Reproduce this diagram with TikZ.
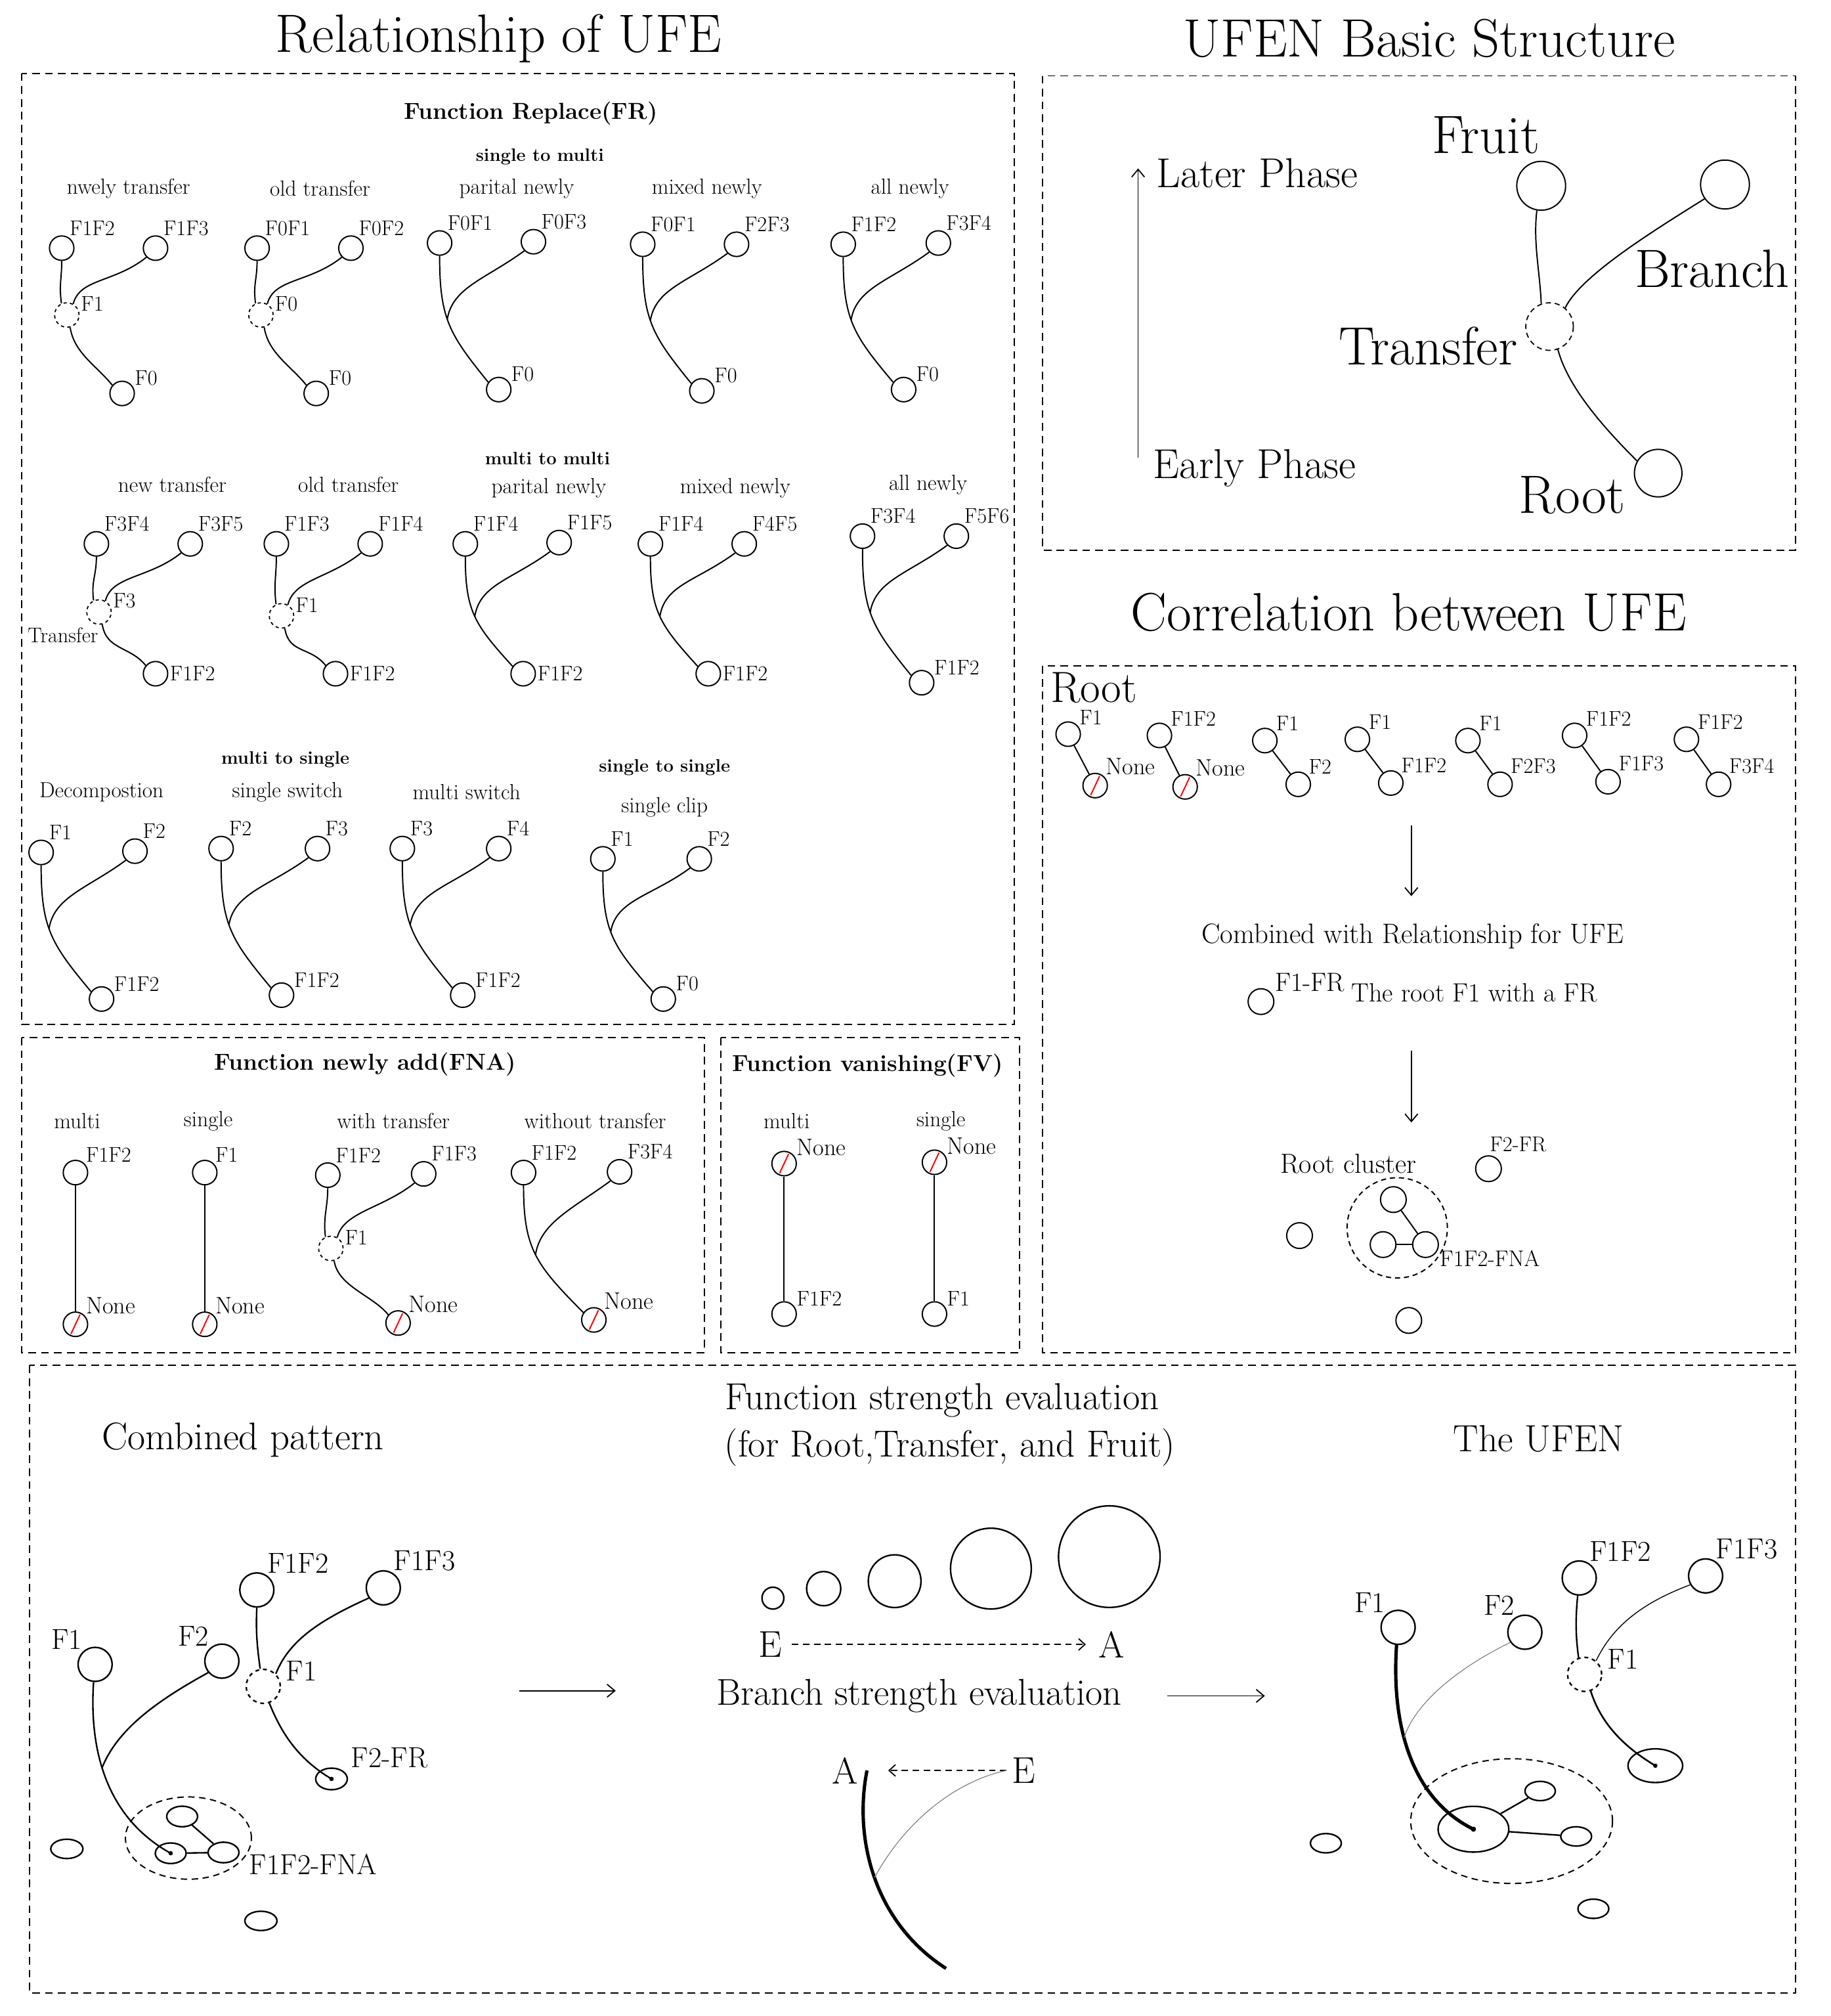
\documentclass[tikz,border=0pt]{standalone}
\usetikzlibrary{calc,arrows.meta,shapes.geometric}
\newcommand{\myfs}[1]{\fontsize{#1}{#1}\selectfont}
\tikzset{
  cir/.style={circle,draw,minimum size=19pt,inner sep=0pt,line width=1pt},
  trc/.style={circle,draw,dash pattern=on 2.5pt off 2.5pt,minimum size=19pt,inner sep=0pt,line width=0.9pt},
  nonec/.style={cir,path picture={\draw[red,line width=1pt] ($(path picture bounding box.center)+(-3.5pt,-7.5pt)$) -- ($(path picture bounding box.center)+(3.5pt,7.5pt)$);}},
  lb/.style={font=\myfs{16.5},inner sep=1pt},
  lbn/.style={font=\myfs{18.5},inner sep=1pt},
  sub/.style={font=\myfs{17},inner sep=0pt},
  hdr/.style={font=\bfseries\myfs{14},inner sep=0pt},
  hdrb/.style={font=\bfseries\myfs{18},inner sep=0pt},
  ttl/.style={font=\myfs{42},inner sep=0pt},
  box/.style={draw,dash pattern=on 6pt off 4pt,line width=1pt},
  ar/.style={-{Straight Barb[length=6pt,width=10pt]},line width=0.9pt},
  dar/.style={-{Straight Barb[length=5pt,width=9pt]},dash pattern=on 5pt off 3.5pt,line width=0.9pt},
  bsty/.style={cir},
  blab/.style={label={[lb]30:#1}},
  bc/.style={circle,draw,line width=1.2pt,inner sep=0pt,minimum size=26.5pt},
  btr/.style={bc,dash pattern=on 3pt off 3pt},
  bel/.style={ellipse,draw,line width=1.2pt,inner sep=0pt},
  bl/.style={font=\myfs{22.5},inner sep=1pt},
  mid/.style={font=\myfs{29},inner sep=0pt},
}
% with transfer diagram
\newcommand{\WT}[9]{%
  \node[cir,label={[lb]60:#6}] (#1L) at #2 {};
  \node[cir,label={[lb]60:#7}] (#1R) at #3 {};
  \node[trc,label={[lb]10:#8}] (#1T) at #4 {};
  \node[bsty,blab={#9}] (#1B) at #5 {};
  \draw[line width=1pt] (#1L.south) .. controls +(0,15) and +(-2,-15) .. (#1T.115);
  \draw[line width=1pt] (#1R.-135) .. controls +(-25,20) and +(5,-20) .. (#1T.60);
  \draw[line width=1pt] (#1T.-75) .. controls +(3,20) and +(-12,-15) .. (#1B.140);
}
% no transfer diagram
\newcommand{\NT}[8]{%
  \node[cir,label={[lb]60:#5}] (#1L) at #2 {};
  \node[cir,label={[lb]60:#6}] (#1R) at #3 {};
  \node[bsty,blab={#7}] (#1B) at #4 {};
  \draw[line width=1pt] let \p1=(#1L.south), \p2=(#1B.145) in
    (\p1) .. controls (\x1,{\y1+0.5*(\y2-(\y1))}) and ({\x1+0.2*(\x2-(\x1))},{\y1+0.62*(\y2-(\y1))}) .. (\p2) coordinate[pos=#8] (#1J);
  \draw[line width=1pt] (#1R.-135) .. controls +(-30,22) and +(4,-25) .. (#1J);
}
% correlation pair
\newcommand{\CP}[7]{%
  \node[cir,label={[lb]40:#4}] (#1a) at #2 {};
  \node[#6,label={[#7]45:#5}] (#1b) at #3 {};
  \draw[line width=1pt] (#1a) -- (#1b);
}
\begin{document}
\begin{tikzpicture}[x=1pt,y=-1pt]
\useasboundingbox (0,0) rectangle (1424,1568);
\fill[white] (0,0) rectangle (1424,1568);

% ---------- titles ----------
\node[ttl] (t1) at (388,30) {Relationship of UFE};
\node[ttl] (t2) at (1112,30) {UFEN Basic Structure};
\node[ttl] (t3) at (1096,476) {Correlation between UFE};

% ---------- boxes ----------
\draw[box] (17,57) rectangle (789,797);
\draw[box] (17,807) rectangle (548,1052);
\draw[box] (561,807) rectangle (793,1052);
\draw[box] (811,59) rectangle (1397,428);
\draw[box] (811,518) rectangle (1397,1052);
\draw[box] (23,1062) rectangle (1397,1550);

% ---------- Function Replace ----------
\node[hdrb] (frh) at (413,88) {Function Replace(FR)};
\node[hdr] (h1) at (420,122) {single to multi};
\node[sub] (s1a) at (100,146.5) {nwely transfer};
\node[sub] (s1b) at (249,146.5) {old transfer};
\node[sub] (s1c) at (402,146.5) {parital newly};
\node[sub] (s1d) at (550,146.5) {mixed newly};
\node[sub] (s1e) at (708,146.5) {all newly};

\WT{a}{(48,193)}{(121,193)}{(52,245)}{(95,306)}{F1F2}{F1F3}{F1}{F0}
\WT{b}{(200,193)}{(273,193)}{(203,245)}{(246,306)}{F0F1}{F0F2}{F0}{F0}
\NT{c}{(342,189)}{(415,188)}{(388,303)}{F0F1}{F0F3}{F0}{0.45}
\NT{d}{(500,190)}{(573,190)}{(546,304)}{F0F1}{F2F3}{F0}{0.45}
\NT{e}{(656,190)}{(730,189)}{(703,303)}{F1F2}{F3F4}{F0}{0.45}

\node[hdr] (h2) at (426,356.5) {multi to multi};
\node[sub] (s2a) at (134,377) {new transfer};
\node[sub] (s2b) at (271,377) {old transfer};
\node[sub] (s2c) at (427,379.5) {parital newly};
\node[sub] (s2d) at (572,379.5) {mixed newly};
\node[sub] (s2e) at (722,377) {all newly};

\tikzset{blab/.style={label={[lb]0:#1}}}
\WT{f}{(75,423)}{(148,423)}{(77,476)}{(121,524)}{F3F4}{F3F5}{F3}{F1F2}
\node[lb] (ftr) at (49,494) {Transfer};
\WT{g}{(215,423)}{(288,423)}{(219,479)}{(261,524)}{F1F3}{F1F4}{F1}{F1F2}
\NT{h}{(362,423)}{(435,422)}{(407,524)}{F1F4}{F1F5}{F1F2}{0.5}
\NT{i}{(506,423)}{(579,423)}{(551,524)}{F1F4}{F4F5}{F1F2}{0.5}
\tikzset{blab/.style={label={[lb]30:#1}}}
\NT{j}{(671,417)}{(744,417)}{(717,531)}{F3F4}{F5F6}{F1F2}{0.45}

\node[hdr] (h3) at (222,591) {multi to single};
\node[hdr] (h4) at (517,597) {single to single};
\node[sub] (s3a) at (79,616) {Decompostion};
\node[sub] (s3b) at (223.6,616) {single switch};
\node[sub] (s3c) at (363,616) {multi switch};
\node[sub] (s3d) at (517,628) {single clip};

\NT{k}{(32,663)}{(105,662)}{(79,777)}{F1}{F2}{F1F2}{0.45}
\NT{l}{(172,660)}{(247,660)}{(219,774)}{F2}{F3}{F1F2}{0.45}
\NT{m}{(313,660)}{(388,660)}{(360,774)}{F3}{F4}{F1F2}{0.45}
\NT{n}{(469,668)}{(544,668)}{(516,777)}{F1}{F2}{F0}{0.45}

% ---------- Function newly add ----------
\node[hdrb] (fnah) at (284,828) {Function newly add(FNA)};
\node[sub] (fna1) at (60,872) {multi};
\node[sub] (fna2) at (162,872) {single};
\node[sub] (fna3) at (306,872) {with transfer};
\node[sub] (fna4) at (463,872) {without transfer};

\node[cir,label={[lb]45:F1F2}] (na1) at (58.7,912) {};
\node[nonec,label={[lbn]45:None}] (na2) at (58.7,1030) {};
\draw[line width=1pt] (na1) -- (na2);
\node[cir,label={[lb]45:F1}] (nb1) at (159.3,912) {};
\node[nonec,label={[lbn]45:None}] (nb2) at (159.3,1030) {};
\draw[line width=1pt] (nb1) -- (nb2);
\tikzset{bsty/.style={nonec},blab/.style={label={[lbn]45:#1}}}
\WT{nc}{(255,914)}{(329.6,913)}{(257.4,971)}{(309.7,1029)}{F1F2}{F1F3}{F1}{None}
\NT{nd}{(407.3,912)}{(482,911.4)}{(462,1026.6)}{F1F2}{F3F4}{None}{0.5}
\tikzset{bsty/.style={cir},blab/.style={label={[lb]30:#1}}}

% ---------- Function vanishing ----------
\node[hdrb] (fvh) at (675,829) {Function vanishing(FV)};
\node[sub] (fv1) at (612,872) {multi};
\node[sub] (fv2) at (732,872) {single};
\node[nonec,label={[lbn]30:None}] (va1) at (610,905) {};
\node[cir,label={[lb]30:F1F2}] (va2) at (610,1022) {};
\draw[line width=1pt] (va1) -- (va2);
\node[nonec,label={[lbn]30:None}] (vb1) at (727,904) {};
\node[cir,label={[lb]30:F1}] (vb2) at (727,1022) {};
\draw[line width=1pt] (vb1) -- (vb2);

% ---------- UFEN Basic Structure ----------
\coordinate (ep) at (885.4,356);
\coordinate (lp) at (885.4,131);
\draw[ar] (ep) -- (lp);
\node[font=\myfs{32.5}] (lpt) at (978,134.5) {Later Phase};
\node[font=\myfs{32.5}] (ept) at (976,364) {Early Phase};
\node[cir,minimum size=38pt] (ufr) at (1199,144.5) {};
\node[cir,minimum size=38pt] (ubr) at (1342,143.5) {};
\node[trc,minimum size=37pt,dash pattern=on 4pt off 3pt] (utr) at (1205.5,254) {};
\node[cir,minimum size=37pt] (urt) at (1290,368) {};
\node[font=\myfs{42}] (ufrt) at (1156,105) {Fruit};
\node[font=\myfs{42}] (ubrt) at (1332,209) {Branch};
\node[font=\myfs{42}] (utrt) at (1111,269) {Transfer};
\node[font=\myfs{42}] (urtt) at (1223,385) {Root};
\draw[line width=1pt] (ufr.-100) .. controls +(-3,25) and +(-1,-25) .. (utr.110);
\draw[line width=1pt] (ubr.-145) .. controls +(-40,25) and +(12,-25) .. (utr.50);
\draw[line width=1pt] (utr.-70) .. controls +(8,30) and +(-25,-25) .. (urt.150);

% ---------- Correlation ----------
\node[font=\myfs{34}] (croot) at (851,535) {Root};
\CP{p1}{(831,571)}{(852,611)}{F1}{None}{nonec}{lbn}
\CP{p2}{(902,572)}{(922,612)}{F1F2}{None}{nonec}{lbn}
\CP{p3}{(984,576)}{(1010,610)}{F1}{F2}{cir}{lb}
\CP{p4}{(1056,575)}{(1082,609)}{F1}{F1F2}{cir}{lb}
\CP{p5}{(1142,576)}{(1167,610)}{F1}{F2F3}{cir}{lb}
\CP{p6}{(1225,572)}{(1251,608)}{F1F2}{F1F3}{cir}{lb}
\CP{p7}{(1312,575)}{(1337,610)}{F1F2}{F3F4}{cir}{lb}
\coordinate (ca1) at (1098,642);
\coordinate (ca2) at (1098,697);
\draw[ar] (ca1) -- (ca2);
\node[font=\myfs{21.8}] (cwr) at (1099,728) {Combined with Relationship for UFE};
\node[cir,minimum size=20pt] (cf1) at (981,779) {};
\node[font=\myfs{20.5},inner sep=0pt] (cf1l) at (1019,764) {F1-FR};
\node[font=\myfs{20.5},inner sep=0pt] (cf1t) at (1147,772) {The root F1 with a FR};
\coordinate (ca3) at (1098,817);
\coordinate (ca4) at (1098,873);
\draw[ar] (ca3) -- (ca4);
\node[font=\myfs{21.5},inner sep=0pt] (rcl) at (1049,905) {Root cluster};
\node[cir,minimum size=20pt] (cf2) at (1158,909) {};
\node[font=\myfs{16.6},inner sep=0pt] (cf2l) at (1181,890) {F2-FR};
\node[circle,draw,dash pattern=on 4pt off 3pt,line width=1pt,minimum size=78pt,inner sep=0pt] (ccl) at (1087,955) {};
\node[cir,minimum size=20pt] (cq1) at (1084,933) {};
\node[cir,minimum size=20pt] (cq2) at (1076,968) {};
\node[cir,minimum size=20pt] (cq3) at (1109,968) {};
\draw[line width=1pt] (cq1) -- (cq3);
\draw[line width=1pt] (cq2) -- (cq3);
\node[font=\myfs{17.6},inner sep=0pt] (cfna) at (1159,979) {F1F2-FNA};
\node[cir,minimum size=20pt] (co1) at (1011,961) {};
\node[cir,minimum size=20pt] (co2) at (1096,1027) {};

% ---------- Bottom: combined pattern ----------
\node[font=\myfs{30}] (cpt) at (189,1120) {Combined pattern};
\node[font=\myfs{29.3}] (fse1) at (733,1089) {Function strength evaluation};
\node[font=\myfs{29.3}] (fse2) at (739,1126) {(for Root,Transfer, and Fruit)};
\node[font=\myfs{29.5}] (tuf) at (1197,1119) {The UFEN};

\node[bc,label={[bl]130:F1}] (bF1) at (74,1294.5) {};
\node[bc,label={[bl]130:F2}] (bF2) at (172.6,1292) {};
\node[bc,label={[bl]60:F1F2}] (bF12) at (199.8,1236.6) {};
\node[bc,label={[bl]60:F1F3}] (bF13) at (298.2,1235) {};
\node[btr,label={[bl,label distance=3pt]10:F1}] (bT) at (204.8,1311.6) {};
\node[bel,minimum width=24.6pt,minimum height=16.8pt] (bFR) at (257.9,1383.6) {};
\node[bl,anchor=west] (bFRl) at (272,1367) {F2-FR};
\node[ellipse,draw,dash pattern=on 5pt off 3.5pt,line width=1pt,minimum width=98pt,minimum height=64pt,inner sep=0pt] (bCl) at (146.6,1429.6) {};
\node[bel,minimum width=24pt,minimum height=16pt] (bQa) at (141.7,1412.8) {};
\node[bel,minimum width=24pt,minimum height=16pt] (bQb) at (132.8,1441.4) {};
\node[bel,minimum width=24pt,minimum height=16pt] (bQc) at (173.9,1440.8) {};
\node[bl] (bfna) at (243.7,1450) {F1F2-FNA};
\node[bel,minimum width=25pt,minimum height=15pt] (bO1) at (52,1438) {};
\node[bel,minimum width=25pt,minimum height=15pt] (bO2) at (203,1494) {};
\fill (bQb.center) circle (1.7pt);
\fill (bFR.center) circle (1.7pt);
\draw[line width=1.2pt] (bF1.-95) .. controls (69,1365) and (85,1415) .. (bQb.center) coordinate[pos=0.42] (bJ);
\draw[line width=1.2pt] (bF2.-140) .. controls +(-40,22) and +(12,-30) .. (bJ);
\draw[line width=1.2pt] (bF12.south) .. controls +(-1,20) and +(-2,-15) .. (bT.100);
\draw[line width=1.2pt] (bF13.-145) .. controls +(-40,18) and +(10,-25) .. (bT.45);
\draw[line width=1.2pt] (bT.-70) .. controls +(10,25) and +(-25,-15) .. (bFR.center);
\draw[line width=1.2pt] (bQa) -- (bQc);
\draw[line width=1.2pt] (bQb) -- (bQc);
\coordinate (arA1) at (404,1315);
\coordinate (arA2) at (479,1315);
\draw[ar] (arA1) -- (arA2);

% ---------- Bottom: strength evaluation ----------
\node[circle,draw,line width=1.2pt,inner sep=0pt,minimum size=17pt] (sc1) at (601.3,1243) {};
\node[circle,draw,line width=1.2pt,inner sep=0pt,minimum size=26.6pt] (sc2) at (640.8,1235.6) {};
\node[circle,draw,line width=1.2pt,inner sep=0pt,minimum size=41pt] (sc3) at (696,1229.8) {};
\node[circle,draw,line width=1.2pt,inner sep=0pt,minimum size=62.8pt] (sc4) at (770.9,1220) {};
\node[circle,draw,line width=1.2pt,inner sep=0pt,minimum size=79pt] (sc5) at (863,1210.7) {};
\node[mid] (sE) at (599.4,1279) {E};
\node[mid] (sA) at (865,1279) {A};
\draw[dar,shorten <=7.5pt,shorten >=10pt] (sE) -- (sA);
\node[font=\myfs{29}] (bse) at (715,1319) {Branch strength evaluation};
\node[mid] (bA) at (657.4,1377) {A};
\node[mid] (bE) at (796.2,1377) {E};
\coordinate (bEs) at (783,1377);
\coordinate (bAe) at (691,1377);
\draw[dar] (bEs) -- (bAe);
\coordinate (bTop) at (674.5,1377);
\coordinate (bBot) at (736,1531);
\draw[line width=2.6pt] (bTop) .. controls (664,1430) and (680,1495) .. (bBot) coordinate[pos=0.5] (bJ2);
\draw[gray,line width=0.6pt] (bEs) .. controls (745,1385) and (705,1415) .. (bJ2);
\coordinate (arB1) at (908,1319);
\coordinate (arB2) at (984,1319);
\draw[ar] (arB1) -- (arB2);

% ---------- Bottom: The UFEN ----------
\node[bc,label={[bl]130:F1}] (uF1) at (1087.7,1265.7) {};
\node[bc,label={[bl]120:F2}] (uF2) at (1186.3,1269.5) {};
\node[bc,label={[bl]60:F1F2}] (uF12) at (1228.6,1227.3) {};
\node[bc,label={[bl]60:F1F3}] (uF13) at (1326.9,1225.7) {};
\node[btr,label={[bl,label distance=3pt]10:F1}] (uT) at (1232.8,1302.3) {};
\node[bel,minimum width=42.6pt,minimum height=26.2pt] (uR) at (1287.8,1373.3) {};
\node[ellipse,draw,dash pattern=on 5pt off 3.5pt,line width=1pt,minimum width=157pt,minimum height=97pt,inner sep=0pt] (uCl) at (1176,1416.4) {};
\node[bel,minimum width=55pt,minimum height=35.6pt] (uBig) at (1146.3,1422.7) {};
\node[bel,minimum width=23.6pt,minimum height=15pt] (uS1) at (1198.2,1393) {};
\node[bel,minimum width=24pt,minimum height=15pt] (uS2) at (1226.2,1428.3) {};
\node[bel,minimum width=24pt,minimum height=15pt] (uO1) at (1031.5,1433.6) {};
\node[bel,minimum width=24pt,minimum height=15pt] (uO2) at (1239.6,1484.6) {};
\fill (uBig.center) circle (2pt);
\fill (uR.center) circle (1.7pt);
\draw[line width=2.6pt] (uF1.-95) .. controls (1082,1345) and (1100,1400) .. (uBig.center) coordinate[pos=0.4] (uJ);
\draw[gray,line width=0.6pt] (uF2.-145) .. controls +(-45,22) and +(8,-25) .. (uJ);
\draw[line width=1.2pt] (uF12.-95) .. controls +(-2,20) and +(-2,-15) .. (uT.110);
\draw[line width=0.7pt] (uF13.-150) .. controls +(-40,15) and +(12,-25) .. (uT.50);
\draw[line width=1.3pt] (uT.-70) .. controls +(8,25) and +(-25,-15) .. (uR.center);
\draw[line width=1.2pt] (uBig) -- (uS1);
\draw[line width=1.2pt] (uBig) -- (uS2);
\end{tikzpicture}
\end{document}
